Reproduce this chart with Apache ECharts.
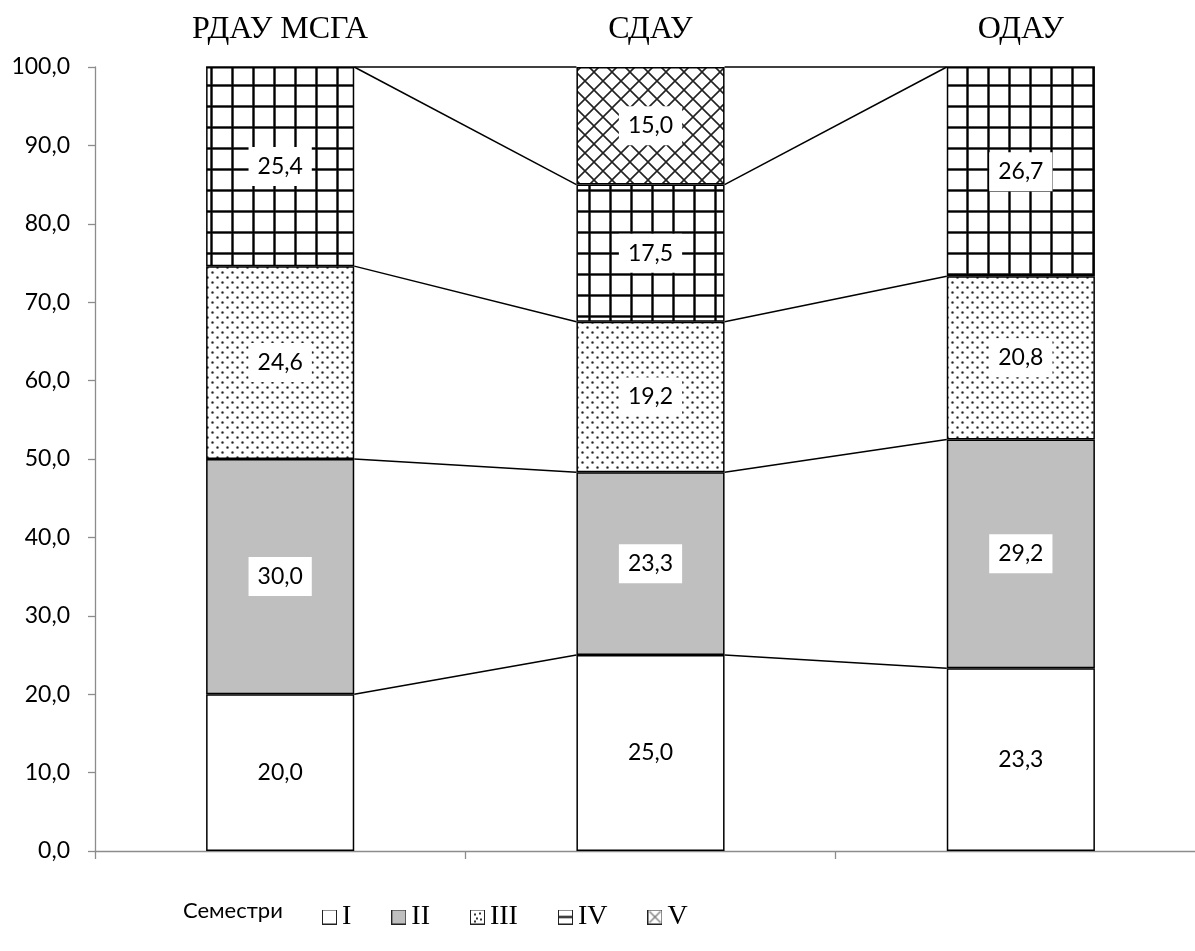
<!DOCTYPE html>
<html>
<head>
<meta charset="utf-8">
<script src="https://cdn.jsdelivr.net/npm/echarts@6/dist/echarts.min.js"></script>
<style>
html,body{margin:0;padding:0;background:#fff;overflow:hidden;}
#chart{width:1220px;height:951px;}
</style>
</head>
<body>
<div id="chart"></div>
<script>
// ---- data ----
const categories = ['РДАУ МСГА', 'СДАУ', 'ОДАУ'];
const seriesNames = ['I', 'II', 'III', 'IV', 'V'];
const semI   = [20.0, 25.0, 23.3];
const semII  = [30.0, 23.3, 29.2];
const semIII = [24.6, 19.2, 20.8];
const semIV  = [25.4, 17.5, 26.7];
const semV   = [0,    15.0, 0];
const yMin = 0, yMax = 100, yStep = 10;
const legendTitle = 'Семестри';

const allSeries = [semI, semII, semIII, semIV, semV];

// ---- patterns ----
function makeCanvas(w, h) {
  const c = document.createElement('canvas');
  c.width = w; c.height = h;
  return c;
}
function gridPattern() {
  const s = 21;
  const c = makeCanvas(s, s), g = c.getContext('2d');
  g.fillStyle = '#fff'; g.fillRect(0, 0, s, s);
  g.fillStyle = '#9a9a9a'; g.fillRect(0, 0, 3, s); g.fillRect(0, 0, s, 3);
  g.fillStyle = '#000'; g.fillRect(0.5, 0, 2, s); g.fillRect(0, 0.5, s, 2);
  return c;
}
function dotPattern() {
  const s = 10;
  const c = makeCanvas(s, s), g = c.getContext('2d');
  g.fillStyle = '#fff'; g.fillRect(0, 0, s, s);
  [[2.5, 2.5], [7.5, 7.5]].forEach(p => {
    g.fillStyle = '#aaa';
    g.beginPath(); g.arc(p[0], p[1], 1.6, 0, Math.PI * 2); g.fill();
    g.fillStyle = '#222';
    g.beginPath(); g.arc(p[0], p[1], 1.0, 0, Math.PI * 2); g.fill();
  });
  return c;
}
function crossPattern() {
  const s = 18;
  const c = makeCanvas(s, s), g = c.getContext('2d');
  g.fillStyle = '#fff'; g.fillRect(0, 0, s, s);
  g.strokeStyle = '#222'; g.lineWidth = 1.6;
  g.beginPath();
  g.moveTo(-2, -2); g.lineTo(s + 2, s + 2);
  g.moveTo(s + 2, -2); g.lineTo(-2, s + 2);
  g.stroke();
  return c;
}
const fills = [
  '#ffffff',
  '#bfbfbf',
  { image: dotPattern(), repeat: 'repeat' },
  { image: gridPattern(), repeat: 'repeat' },
  { image: crossPattern(), repeat: 'repeat' }
];

// legend icons
function legendIcon(kind) {
  const s = 15;
  const c = makeCanvas(s, s), g = c.getContext('2d');
  g.fillStyle = kind === 1 ? '#bfbfbf' : '#fff';
  g.fillRect(0, 0, s, s);
  if (kind === 2) {
    g.fillStyle = '#333';
    [[4, 4], [9, 3], [6, 8], [10, 9], [4, 11]].forEach(p => g.fillRect(p[0], p[1], 2, 2));
  }
  if (kind === 3) {
    g.fillStyle = '#000'; g.fillRect(1, 6.5, 13, 2);
  }
  if (kind === 4) {
    g.strokeStyle = '#777'; g.lineWidth = 1.3;
    g.beginPath(); g.moveTo(2, 2); g.lineTo(13, 13); g.moveTo(13, 2); g.lineTo(2, 13); g.stroke();
  }
  g.strokeStyle = '#222'; g.lineWidth = 1;
  g.strokeRect(0.5, 0.5, s - 1, s - 1);
  return 'image://' + c.toDataURL();
}

const fmt = v => v.toFixed(1).replace('.', ',');

// cumulative levels for series lines
const cum = [];
let run = categories.map(() => 0);
allSeries.forEach(arr => {
  run = run.map((r, i) => r + arr[i]);
  cum.push(run.slice());
});
const lineData = [];
for (let i = 0; i < categories.length - 1; i++) {
  for (let k = 0; k < cum.length; k++) {
    lineData.push([i, cum[k][i], cum[k][i + 1]]);
  }
}

const BAR_FRAC = 0.4;

const barSeries = seriesNames.map((name, k) => ({
  name: name,
  type: 'bar',
  stack: 'total',
  barWidth: (BAR_FRAC * 100) + '%',
  xAxisIndex: 0,
  yAxisIndex: 0,
  itemStyle: { color: fills[k], borderColor: '#000', borderWidth: 1.5 },
  label: {
    show: true,
    position: 'inside',
    formatter: p => fmt(p.value),
    color: '#000',
    fontFamily: 'Lato',
    fontSize: 23,
    backgroundColor: k === 0 ? 'transparent' : '#fff',
    padding: [8, 9]
  },
  emphasis: { disabled: true },
  data: allSeries[k].map(v => ({ value: v, label: { show: v > 0 } }))
}));

const linesSeries = {
  type: 'custom',
  xAxisIndex: 0,
  yAxisIndex: 0,
  silent: true,
  z: 1,
  renderItem: function (params, api) {
    const i = api.value(0);
    const p0 = api.coord([i, api.value(1)]);
    const p1 = api.coord([i + 1, api.value(2)]);
    const half = api.size([1, 0])[0] * BAR_FRAC / 2;
    return {
      type: 'line',
      shape: { x1: p0[0] + half, y1: p0[1], x2: p1[0] - half, y2: p1[1] },
      style: { stroke: '#000', lineWidth: 1.5 }
    };
  },
  encode: { x: 0, y: [1, 2] },
  data: lineData
};

const chart = echarts.init(document.getElementById('chart'), null, { renderer: 'canvas' });
chart.setOption({
  animation: false,
  backgroundColor: '#fff',
  grid: { left: 95, top: 67, width: 1111, height: 784, containLabel: false },
  xAxis: [
    {
      type: 'category',
      data: categories,
      position: 'bottom',
      boundaryGap: true,
      axisLine: { show: true, lineStyle: { color: '#8c8c8c', width: 1.3 } },
      axisTick: { show: true, length: 8, lineStyle: { color: '#8c8c8c', width: 1.3 } },
      axisLabel: { show: false }
    },
    {
      type: 'category',
      data: categories,
      position: 'top',
      axisLine: { show: false },
      axisTick: { show: false },
      axisLabel: {
        show: true,
        color: '#000',
        fontFamily: 'Liberation Serif',
        fontSize: 32,
        margin: 21
      }
    }
  ],
  yAxis: {
    type: 'value',
    min: yMin,
    max: yMax,
    interval: yStep,
    axisLine: { show: true, lineStyle: { color: '#8c8c8c', width: 1.3 } },
    axisTick: { show: true, length: 7, lineStyle: { color: '#8c8c8c', width: 1.3 } },
    splitLine: { show: false },
    axisLabel: {
      formatter: v => fmt(v),
      color: '#000',
      fontFamily: 'Lato',
      fontSize: 23,
      margin: 25
    }
  },
  legend: {
    data: seriesNames.map((n, k) => ({ name: n, icon: legendIcon(k) })),
    left: 317,
    top: 898,
    itemWidth: 15,
    itemHeight: 15,
    itemGap: 40,
    textStyle: { fontFamily: 'Liberation Serif', fontSize: 28, color: '#000' },
    selectedMode: false
  },
  graphic: [{
    type: 'text',
    left: 183,
    top: 900,
    style: { text: legendTitle, font: '22px Lato', fill: '#000' }
  }],
  series: barSeries.concat([linesSeries])
});
</script>
</body>
</html>
